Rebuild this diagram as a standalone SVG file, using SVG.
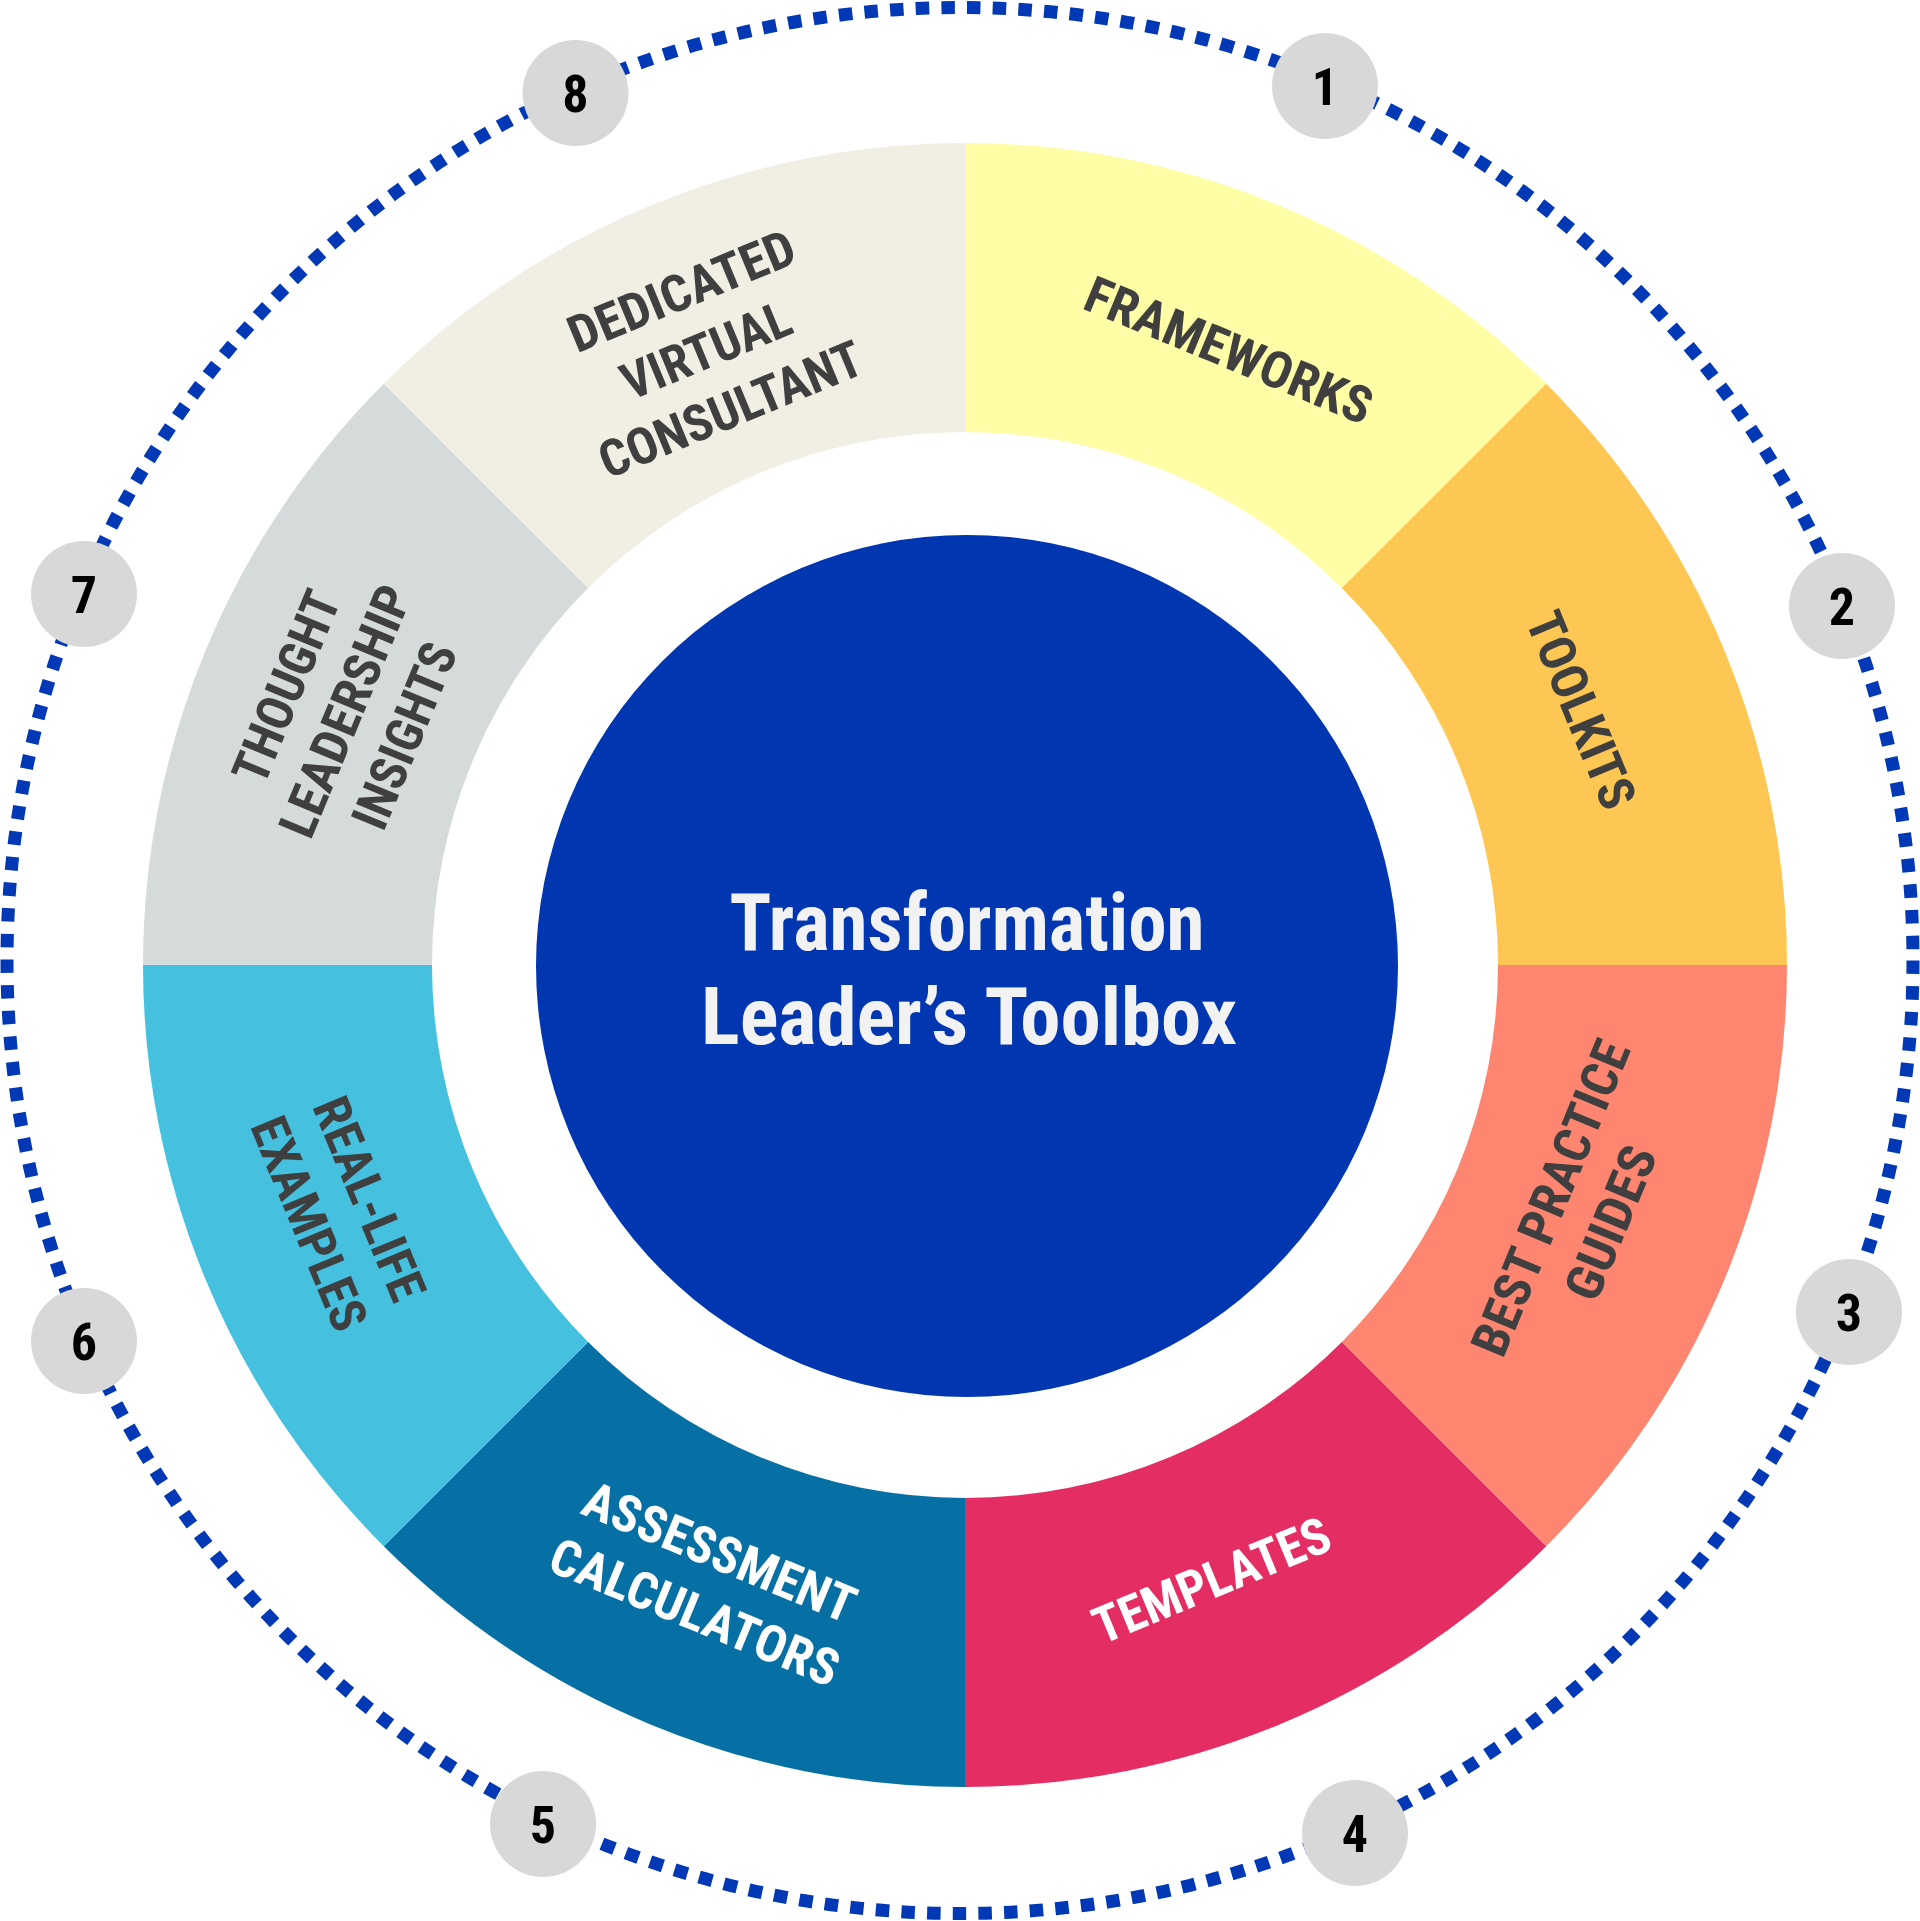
<svg xmlns="http://www.w3.org/2000/svg" width="1920" height="1921" viewBox="0 0 1920 1921">
<style>
.lbl{font-family:'Liberation Sans Narrow','Arial Narrow','Roboto Condensed','Liberation Sans',Arial,sans-serif;font-weight:bold;font-size:51px;text-anchor:middle}
.dark{fill:#3f3f3f}
.light{fill:#ffffff}
.num{font-family:'Liberation Sans Narrow','Arial Narrow','Roboto Condensed','Liberation Sans',Arial,sans-serif;font-weight:bold;font-size:52px;text-anchor:middle;fill:#000000}
.badge{fill:#d8d8d8}
.title{font-family:'Liberation Sans Narrow','Arial Narrow','Roboto Condensed','Liberation Sans',Arial,sans-serif;font-weight:bold;font-size:80px;text-anchor:middle;fill:#f2f2f2}
</style>
<rect x="0" y="0" width="1920" height="1921" fill="#ffffff"/>
<g id="connectors">
<circle cx="960" cy="960.5" r="953" fill="none" stroke="#0038b5" stroke-width="13" stroke-dasharray="13.5 12.2"/>
</g>
<g id="seg1"><path d="M965,143 A822,822 0 0 1 1546.24,383.76 L1341.89,588.11 A533,533 0 0 0 965,432 Z" fill="#fffda6"/>
<g transform="translate(1229,350) rotate(22.5)"><text class="lbl dark" x="0" y="18" textLength="306" lengthAdjust="spacingAndGlyphs">FRAMEWORKS</text></g></g>
<g id="seg2"><path d="M1546.24,383.76 A822,822 0 0 1 1787,965 L1498,965 A533,533 0 0 0 1341.89,588.11 Z" fill="#fec753"/>
<g transform="translate(1581.5,710) rotate(67.5)"><text class="lbl dark" x="0" y="18" textLength="208" lengthAdjust="spacingAndGlyphs">TOOLKITS</text></g></g>
<g id="seg3"><path d="M1787,965 A822,822 0 0 1 1546.24,1546.24 L1341.89,1341.89 A533,533 0 0 0 1498,965 Z" fill="#fe8570"/>
<g transform="translate(1580,1210) rotate(-67.5)"><text class="lbl dark" x="0" y="-14" textLength="336" lengthAdjust="spacingAndGlyphs">BEST PRACTICE</text><text class="lbl dark" x="0" y="51" textLength="162" lengthAdjust="spacingAndGlyphs">GUIDES</text></g></g>
<g id="seg4"><path d="M1546.24,1546.24 A822,822 0 0 1 965,1787 L965,1498 A533,533 0 0 0 1341.89,1341.89 Z" fill="#e32d63"/>
<g transform="translate(1211.5,1580) rotate(-22.5)"><text class="lbl light" x="0" y="18" textLength="252" lengthAdjust="spacingAndGlyphs">TEMPLATES</text></g></g>
<g id="seg5"><path d="M965,1787 A822,822 0 0 1 383.76,1546.24 L588.11,1341.89 A533,533 0 0 0 965,1498 Z" fill="#0670a5"/>
<g transform="translate(707.5,1581.5) rotate(22.5)"><text class="lbl light" x="0" y="-14" textLength="290" lengthAdjust="spacingAndGlyphs">ASSESSMENT</text><text class="lbl light" x="0" y="51" textLength="308" lengthAdjust="spacingAndGlyphs">CALCULATORS</text></g></g>
<g id="seg6"><path d="M383.76,1546.24 A822,822 0 0 1 143,965 L432,965 A533,533 0 0 0 588.11,1341.89 Z" fill="#45c1df"/>
<g transform="translate(340,1211) rotate(67.5)"><text class="lbl dark" x="0" y="-14" textLength="215" lengthAdjust="spacingAndGlyphs">REAL-LIFE</text><text class="lbl dark" x="0" y="51" textLength="226" lengthAdjust="spacingAndGlyphs">EXAMPLES</text></g></g>
<g id="seg7"><path d="M143,965 A822,822 0 0 1 383.76,383.76 L588.11,588.11 A533,533 0 0 0 432,965 Z" fill="#d5dada"/>
<g transform="translate(345,711) rotate(-67.5)"><text class="lbl dark" x="0" y="-46" textLength="203" lengthAdjust="spacingAndGlyphs">THOUGHT</text><text class="lbl dark" x="0" y="18" textLength="267" lengthAdjust="spacingAndGlyphs">LEADERSHIP</text><text class="lbl dark" x="0" y="82" textLength="196" lengthAdjust="spacingAndGlyphs">INSIGHTS</text></g></g>
<g id="seg8"><path d="M383.76,383.76 A822,822 0 0 1 965,143 L965,432 A533,533 0 0 0 588.11,588.11 Z" fill="#f1eee3"/>
<g transform="translate(706,350) rotate(-22.5)"><text class="lbl dark" x="0" y="-46" textLength="241" lengthAdjust="spacingAndGlyphs">DEDICATED</text><text class="lbl dark" x="0" y="18" textLength="179" lengthAdjust="spacingAndGlyphs">VIRTUAL</text><text class="lbl dark" x="0" y="82" textLength="280" lengthAdjust="spacingAndGlyphs">CONSULTANT</text></g></g>
<g id="center"><circle cx="967" cy="966" r="431" fill="#0036b0"/>
<text class="title" x="967" y="950" textLength="475" lengthAdjust="spacingAndGlyphs">Transformation</text>
<text class="title" x="969" y="1044" textLength="536" lengthAdjust="spacingAndGlyphs">Leader’s Toolbox</text></g>
<g id="n1"><circle class="badge" cx="1325" cy="86" r="53"/><text class="num" x="1325" y="105">1</text></g>
<g id="n2"><circle class="badge" cx="1842" cy="606" r="53"/><text class="num" x="1842" y="625">2</text></g>
<g id="n3"><circle class="badge" cx="1849" cy="1312" r="53"/><text class="num" x="1849" y="1331">3</text></g>
<g id="n4"><circle class="badge" cx="1355" cy="1833" r="53"/><text class="num" x="1355" y="1852">4</text></g>
<g id="n5"><circle class="badge" cx="543" cy="1824" r="53"/><text class="num" x="543" y="1843">5</text></g>
<g id="n6"><circle class="badge" cx="84" cy="1341" r="53"/><text class="num" x="84" y="1360">6</text></g>
<g id="n7"><circle class="badge" cx="84" cy="594" r="53"/><text class="num" x="84" y="613">7</text></g>
<g id="n8"><circle class="badge" cx="575.5" cy="93" r="53"/><text class="num" x="575.5" y="112">8</text></g>
</svg>
